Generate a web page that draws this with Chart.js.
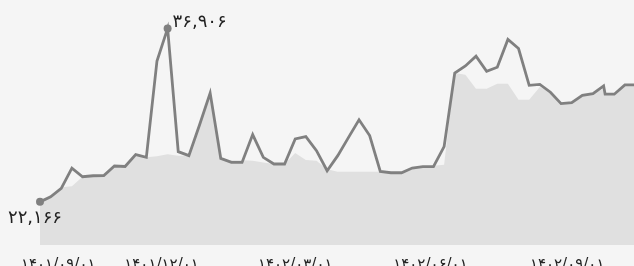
<!DOCTYPE html>
<html lang="fa">
<head>
    <meta charset="UTF-8">
    <title>نمودار</title>
    <script src="https://cdn.jsdelivr.net/npm/chart.js"></script>
    <style>
        body { margin: 0; background: #f5f5f5; }
        #wrap { width: 634px; height: 266px; overflow: hidden; }
    </style>
</head>
<body>
    <div id="wrap"><canvas id="myChart" width="634" height="290"></canvas></div>

    <script>
        // روز از ابتدای بازه (هفتگی)
        const days = [0, 7, 14, 21, 28, 35, 42, 49, 56, 63, 70, 77, 84, 91, 98, 105, 112, 119, 126, 133,
            140, 147, 154, 161, 168, 175, 182, 189, 196, 203, 210, 217, 224, 231, 238, 245, 252, 259, 266, 273,
            280, 287, 294, 301, 308, 315, 322, 329, 336, 343, 350, 357, 364, 371, 372, 378, 385, 392];

        const lineValues = [22166, 22593, 23318, 25025, 24300, 24385, 24402, 25213, 25170, 26177,
            25947, 34141, 36906, 26434, 26092, 28700, 31409, 25862, 25520, 25520,
            27884, 25947, 25384, 25384, 27517, 27714, 26519, 24812, 26092, 27628,
            29139, 27799, 24752, 24641, 24641, 25042, 25153, 25153, 26860, 33116,
            33714, 34542, 33262, 33603, 35967, 35199, 32067, 32152, 31486, 30513,
            30599, 31213, 31367, 32024, 31316, 31316, 32110, 32110];

        const areaValues = [22166, 22593, 23404, 23489, 24300, 24385, 24402, 25213, 25170, 26049,
            25947, 26032, 26203, 26092, 26092, 28700, 31409, 25862, 25708, 25708,
            25665, 25520, 25384, 25384, 26322, 25725, 25665, 24940, 24727, 24727,
            24727, 24727, 24727, 24641, 24641, 25093, 25153, 25239, 25324, 33116,
            32963, 31785, 31785, 32212, 32212, 30846, 30846, 31922, 31486, 30513,
            30599, 31213, 31367, 31768, 31316, 31316, 32110, 32110];

        const tickDays = [12, 80, 168, 257, 347];
        const tickLabels = ['۱۴۰۱/۰۹/۰۱', '۱۴۰۱/۱۲/۰۱', '۱۴۰۲/۰۳/۰۱', '۱۴۰۲/۰۶/۰۱', '۱۴۰۲/۰۹/۰۱'];

        const faDigits = '۰۱۲۳۴۵۶۷۸۹';
        function toFa(n) {
            return n.toLocaleString('en-US').replace(/\d/g, d => faDigits[d]);
        }

        const maxIdx = lineValues.indexOf(Math.max(...lineValues));
        const minIdx = lineValues.indexOf(Math.min(...lineValues));

        // برچسب کمینه و بیشینه
        const extremaLabels = {
            id: 'extremaLabels',
            afterDatasetsDraw(chart) {
                const ctx = chart.ctx;
                const meta = chart.getDatasetMeta(0);
                const pMax = meta.data[maxIdx];
                const pMin = meta.data[minIdx];
                ctx.save();
                ctx.font = '18px "DejaVu Sans"';
                ctx.fillStyle = '#222';
                ctx.textBaseline = 'alphabetic';
                ctx.textAlign = 'left';
                ctx.fillText(toFa(lineValues[maxIdx]), pMax.x + 5, pMax.y - 1);
                ctx.textAlign = 'center';
                ctx.fillText(toFa(lineValues[minIdx]), pMin.x - 5, pMin.y + 21);
                ctx.restore();
            }
        };

        const ctx = document.getElementById('myChart').getContext('2d');
        new Chart(ctx, {
            type: 'line',
            data: {
                datasets: [{
                    data: days.map((d, i) => ({ x: d, y: lineValues[i] })),
                    borderColor: '#808080',
                    borderWidth: 2.8,
                    tension: 0,
                    fill: false,
                    clip: false,
                    pointRadius: ctx => (ctx.dataIndex === maxIdx || ctx.dataIndex === minIdx) ? 4 : 0,
                    pointBackgroundColor: '#808080',
                    pointBorderWidth: 0
                }, {
                    data: days.map((d, i) => ({ x: d, y: areaValues[i] })),
                    borderWidth: 0,
                    borderColor: '#e0e0e0',
                    backgroundColor: '#e0e0e0',
                    tension: 0,
                    fill: 'start',
                    pointRadius: 0
                }]
            },
            options: {
                responsive: false,
                animation: false,
                layout: { autoPadding: false, padding: { left: 40, right: 0, top: 0, bottom: 0 } },
                plugins: {
                    legend: { display: false },
                    tooltip: { enabled: false }
                },
                scales: {
                    x: {
                        type: 'linear',
                        min: 0,
                        max: 391,
                        grid: { display: false, drawTicks: false },
                        border: { display: false },
                        afterBuildTicks: scale => {
                            scale.ticks = tickDays.map(v => ({ value: v }));
                        },
                        afterFit: scale => { scale.height = 45; },
                        ticks: {
                            autoSkip: false,
                            maxRotation: 0,
                            padding: 11,
                            color: '#222',
                            font: { family: 'DejaVu Sans', size: 15 },
                            callback: (v, i) => tickLabels[i]
                        }
                    },
                    y: {
                        display: false,
                        min: 18500,
                        max: 39320
                    }
                }
            },
            plugins: [extremaLabels]
        });
    </script>
</body>
</html>
